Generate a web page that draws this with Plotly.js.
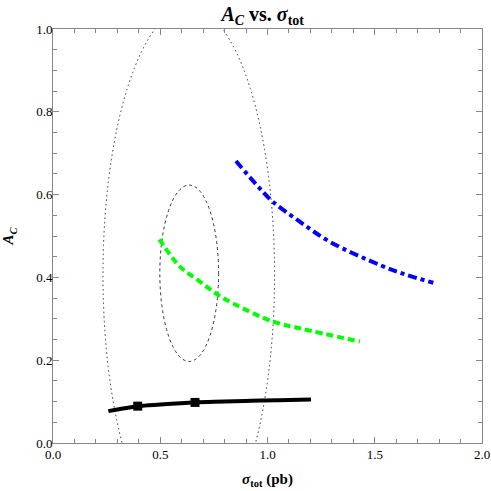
<!DOCTYPE html>
<html>
<head>
<meta charset="utf-8">
<script src="https://cdn.plot.ly/plotly-3.0.1.min.js"></script>
<style>
    html, body { margin: 0; padding: 0; background: #fff; }
    #plot { width: 491px; height: 491px; }
</style>
</head>
<body>
<div id="plot"></div>
<script>
// Curva negra (con dos puntos marcados)
var blackX = [0.258, 0.30, 0.395, 0.50, 0.662, 0.80, 0.926, 1.05, 1.203];
var blackY = [0.077, 0.081, 0.089, 0.093, 0.098, 0.100, 0.102, 0.103, 0.105];
var markX = [0.395, 0.662];
var markY = [0.089, 0.098];

// Curva verde (discontinua)
var greenX = [0.496, 0.592, 0.685, 0.763, 0.84, 1.027, 1.151, 1.431];
var greenY = [0.492, 0.426, 0.390, 0.360, 0.337, 0.293, 0.277, 0.245];

// Curva azul (punto y raya)
var blueX = [0.853, 0.95, 1.02, 1.144, 1.291, 1.524, 1.649, 1.773];
var blueY = [0.681, 0.623, 0.585, 0.537, 0.486, 0.430, 0.406, 0.387];

// Elipses: centro y semiejes [pequeña, grande]
var ellCenterX = [0.635, 0.633];
var ellCenterY = [0.410, 0.406];
var ellHalfW = [0.137, 0.400];
var ellHalfH = [0.213, 0.646];
var ellDash = ['3px,3px', '1.5px,3px'];

(function (document, window) {

    var serif = 'Liberation Serif';

    var traces = [
        {
            x: blackX, y: blackY, mode: 'lines', type: 'scatter',
            line: { color: '#000', width: 4, shape: 'spline' }
        },
        {
            x: markX, y: markY, mode: 'markers', type: 'scatter',
            marker: { symbol: 'square', size: 9, color: '#000' }
        },
        {
            x: greenX, y: greenY, mode: 'lines', type: 'scatter',
            line: { color: '#00ff00', width: 4, dash: '7px,4px', shape: 'spline' }
        },
        {
            x: blueX, y: blueY, mode: 'lines', type: 'scatter',
            line: { color: '#0000ff', width: 4, dash: '9px,4px,4px,4px', shape: 'spline' }
        }
    ];

    var shapes = [];
    for (var i = 0; i < ellCenterX.length; i++) {
        shapes.push({
            type: 'circle', xref: 'x', yref: 'y', layer: 'below',
            x0: ellCenterX[i] - ellHalfW[i], x1: ellCenterX[i] + ellHalfW[i],
            y0: ellCenterY[i] - ellHalfH[i], y1: ellCenterY[i] + ellHalfH[i],
            line: { color: '#333', width: 1, dash: ellDash[i] }
        });
    }

    var axisCommon = {
        showgrid: false, zeroline: false,
        showline: true, linecolor: '#888', linewidth: 1, mirror: 'ticks',
        ticks: 'inside', ticklen: 6, tickcolor: '#888', tickwidth: 1,
        tickfont: { family: serif, size: 13, color: '#000' }
    };

    var layout = {
        width: 491, height: 491,
        margin: { l: 53, r: 9, t: 29, b: 48 },
        showlegend: false,
        paper_bgcolor: '#fff', plot_bgcolor: '#fff',
        title: {
            text: '<b><i>A</i><sub><i>C</i></sub> vs. <i>σ</i><sub>tot</sub></b>',
            font: { family: serif, size: 20, color: '#000' },
            x: 0.535, xanchor: 'center', y: 0.972, yanchor: 'middle'
        },
        xaxis: Object.assign({}, axisCommon, {
            range: [0, 2], dtick: 0.5, tickformat: '.1f',
            ticklabelstandoff: -1,
            minor: { ticks: 'inside', dtick: 0.1, ticklen: 4, tickcolor: '#888' },
            title: {
                text: '<b><i>σ</i><sub>tot</sub> (pb)</b>',
                font: { family: serif, size: 15, color: '#000' },
                standoff: 12
            }
        }),
        yaxis: Object.assign({}, axisCommon, {
            range: [0, 1], dtick: 0.2, tickformat: '.1f',
            ticklabelstandoff: -3,
            minor: { ticks: 'inside', dtick: 0.05, ticklen: 4, tickcolor: '#888' },
            title: {
                text: '<b><i>A</i><sub><i>C</i></sub></b>',
                font: { family: serif, size: 15, color: '#000' },
                standoff: 18
            }
        }),
        shapes: shapes
    };

    document.addEventListener("DOMContentLoaded", function () {
        Plotly.newPlot('plot', traces, layout, { staticPlot: true, displayModeBar: false });
    });

})(document, window);
</script>
</body>
</html>
